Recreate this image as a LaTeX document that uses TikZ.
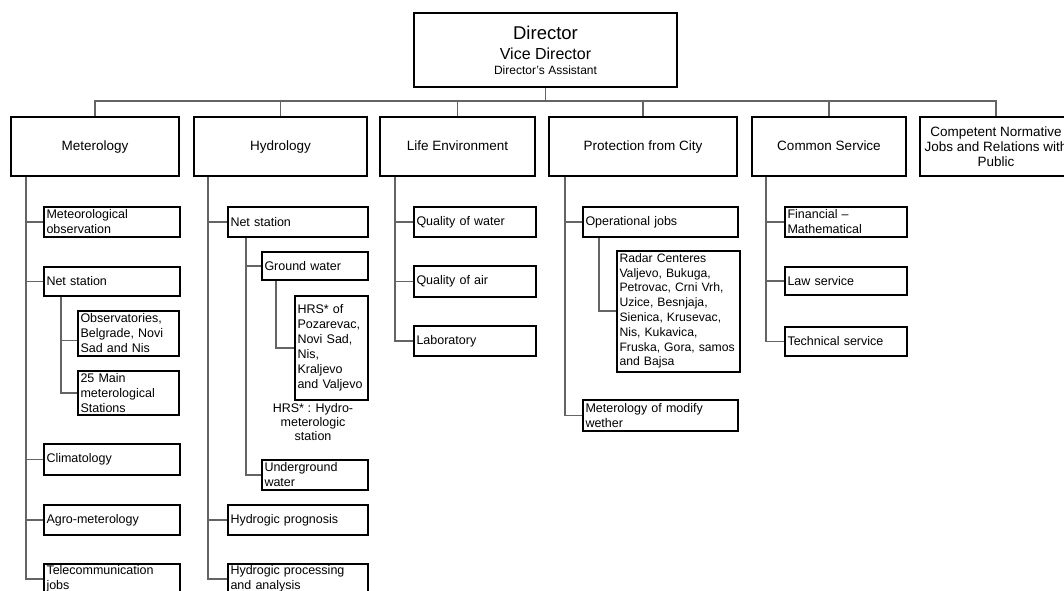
\documentclass[tikz,border=0pt]{standalone}
\usepackage{fontspec}
\setmainfont{Liberation Sans}
\definecolor{linegray}{RGB}{100,100,100}
\begin{document}
\begin{tikzpicture}[x=1pt,y=-1pt,
  conn/.style={draw=linegray, line width=1.2pt},
  topbox/.style={draw=black, line width=2pt, fill=white, align=center,
    font=\fontsize{13.5}{15}\selectfont, inner sep=0pt},
  onel/.style={text height=10pt, text depth=3pt},
  subb/.style={draw=black, line width=2pt, fill=white, align=left,
    font=\fontsize{12.5}{15}\selectfont, inner xsep=2.5pt, inner ysep=0pt,
    anchor=north west},
  note/.style={align=center, font=\fontsize{12.5}{14}\selectfont, inner sep=0pt},
  dirtext/.style={inner sep=0pt, anchor=base}
]
\useasboundingbox (0,0) rectangle (1064,590);

% Director
\node[draw=black, line width=2.5pt, fill=white, minimum width=263, minimum height=74,
  inner sep=0pt] (dir) at (545.5,50) {};
\node[dirtext, font=\fontsize{18.5}{20}\selectfont] (dirA) at (545.5,39.5) {Director};
\node[dirtext, font=\fontsize{16}{18}\selectfont] (dirB) at (545.5,59.5) {Vice Director};
\node[dirtext, font=\fontsize{12}{14}\selectfont] (dirC) at (545.5,74.5) {Director's Assistant};

% Top-level departments
\node[topbox, onel, minimum width=168, minimum height=59] (met)  at (95,146.5)  {Meterology};
\node[topbox, onel, minimum width=173, minimum height=59] (hyd)  at (280.5,146.5) {Hydrology};
\node[topbox, onel, minimum width=155, minimum height=59] (life) at (457.5,146.5) {Life Environment};
\node[topbox, onel, minimum width=188, minimum height=59] (prot) at (643,146.5)  {Protection from City};
\node[topbox, onel, minimum width=154, minimum height=59] (com)  at (829,146.5)  {Common Service};
\node[topbox, minimum width=152, minimum height=59] (comp) at (996,146.5)
  {Competent Normative\\Jobs and Relations with\\Public};

% bus
\coordinate (bus) at (545.5,101);
\draw[conn] (dir.south) -- (bus);
\foreach \n in {met,hyd,life,prot,com,comp} \draw[conn] (\n.north) |- (bus);

% Meterology column
\node[subb, text width=131, minimum height=30] (mobs) at (43,206) {Meteorological\\observation};
\node[subb, text width=131, minimum height=29] (mnet) at (43,266) {Net station};
\node[subb, text width=96, minimum height=45] (mobsv) at (77,310) {Observatories,\\Belgrade, Novi\\Sad and Nis};
\node[subb, text width=96, minimum height=44] (m25) at (77,370) {25 Main\\meterological\\Stations};
\node[subb, text width=131, minimum height=31] (mclim) at (43,443) {Climatology};
\node[subb, text width=131, minimum height=30] (magro) at (43,504) {Agro-meterology};
\node[subb, text width=131, minimum height=30] (mtel) at (43,563) {Telecommunication\\jobs};

\coordinate (mT) at ([xshift=16pt]met.south west);
\draw[conn] (mT) |- (mtel.west);
\foreach \b in {mobs,mnet,mclim,magro} \draw[conn] (\b.west -| mT) -- (\b.west);
\coordinate (mnT) at ([xshift=18pt]mnet.south west);
\draw[conn] (mnT) |- (m25.west);
\draw[conn] ([yshift=-7pt]mobsv.west -| mnT) -- ([yshift=-7pt]mobsv.west);

% Hydrology column
\node[subb, text width=135, minimum height=30] (hnet) at (227,206) {Net station};
\node[subb, text width=101, minimum height=28] (hgw) at (261,251) {Ground water};
\node[subb, text width=68, minimum height=104] (hhrs) at (294,295)
  {HRS* of\\Pozarevac,\\Novi Sad,\\Nis,\\Kraljevo\\and Valjevo};
\node[note] (hnote) at (313,422) {HRS* : Hydro-\\meterologic\\station};
\node[subb, text width=101, minimum height=30] (hug) at (261,459) {Underground\\water};
\node[subb, text width=135, minimum height=30] (hprog) at (227,504) {Hydrogic prognosis};
\node[subb, text width=135, minimum height=30] (hproc) at (227,563) {Hydrogic processing\\and analysis};

\coordinate (hT) at ([xshift=15pt]hyd.south west);
\draw[conn] (hT) |- (hproc.west);
\foreach \b in {hnet,hprog} \draw[conn] (\b.west -| hT) -- (\b.west);
\coordinate (hnT) at ([xshift=19pt]hnet.south west);
\draw[conn] (hnT) |- (hug.west);
\draw[conn] (hgw.west -| hnT) -- (hgw.west);
\coordinate (hgT) at ([xshift=15pt]hgw.south west);
\draw[conn] (hgT) |- (hhrs.west);

% Life Environment column
\node[subb, text width=117, minimum height=30] (lw) at (413,206) {Quality of water};
\node[subb, text width=117, minimum height=31] (la) at (413,265) {Quality of air};
\node[subb, text width=117, minimum height=30] (llab) at (413,325) {Laboratory};
\coordinate (lT) at ([xshift=16pt]life.south west);
\draw[conn] (lT) |- (llab.west);
\foreach \b in {lw,la} \draw[conn] (\b.west -| lT) -- (\b.west);

% Protection column
\node[subb, text width=118, minimum height=121, font=\fontsize{12.2}{14.8}\selectfont] (prad) at (616,249.5)
  {Radar Centeres\\Valjevo, Bukuga,\\Petrovac, Crni Vrh,\\Uzice, Besnjaja,\\Sienica, Krusevac,\\Nis, Kukavica,\\Fruska, Gora, samos\\and Bajsa};
\node[subb, text width=150, minimum height=30] (pop) at (582,206) {Operational jobs};
\node[subb, text width=150, minimum height=31] (pmod) at (582,399) {Meterology of modify\\wether};
\coordinate (pT) at ([xshift=17pt]prot.south west);
\draw[conn] (pT) |- (pmod.west);
\draw[conn] (pop.west -| pT) -- (pop.west);
\coordinate (poT) at ([xshift=17pt]pop.south west);
\draw[conn] (poT) |- (prad.west);

% Common Service column
\node[subb, text width=117, minimum height=30] (cfin) at (784,206) {Financial –\\Mathematical};
\node[subb, text width=117, minimum height=28] (claw) at (784,266) {Law service};
\node[subb, text width=117, minimum height=29] (ctech) at (784,326) {Technical service};
\coordinate (cT) at ([xshift=15pt]com.south west);
\draw[conn] (cT) |- (ctech.west);
\foreach \b in {cfin,claw} \draw[conn] (\b.west -| cT) -- (\b.west);
\end{tikzpicture}
\end{document}
